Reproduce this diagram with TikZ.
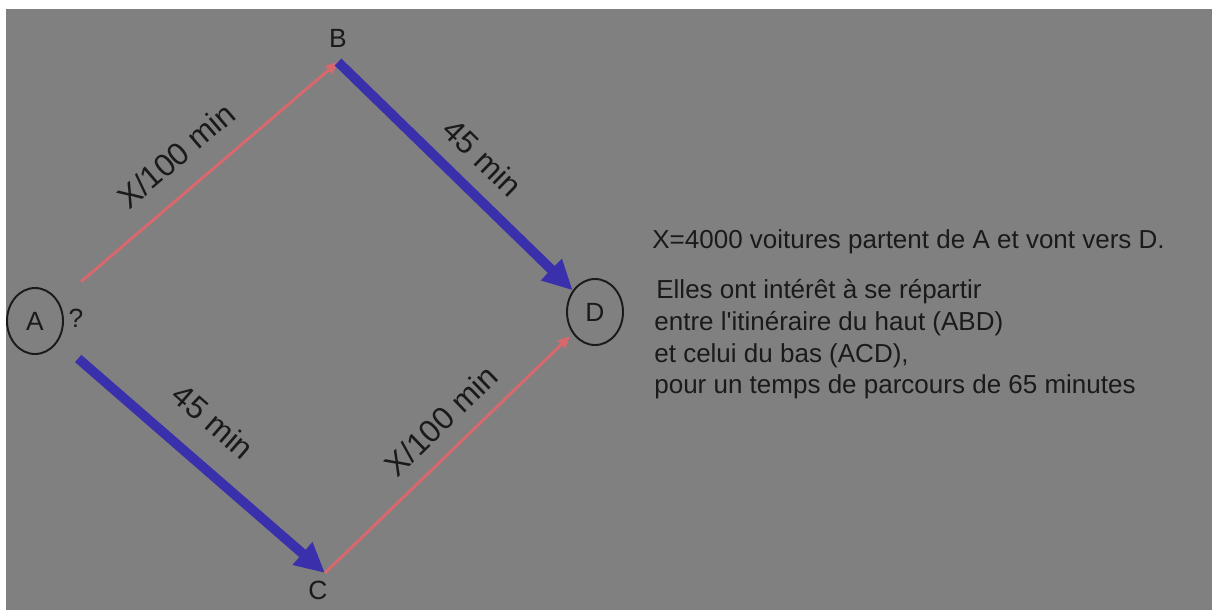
\documentclass[tikz,border=0pt]{standalone}
\usepackage{fontspec}
\setmainfont{Liberation Sans}
\usetikzlibrary{arrows.meta,shapes.geometric}
\definecolor{bg}{RGB}{128,128,128}
\definecolor{redline}{RGB}{214,104,110}
\definecolor{blueline}{RGB}{58,48,172}
\definecolor{ink}{RGB}{26,26,26}
\tikzset{
  town/.style={ellipse, draw=ink, line width=1.1pt, inner sep=0pt, text=ink,
    minimum width=56*0.02cm, minimum height=66*0.02cm, font=\fontsize{15}{18}\selectfont},
  lbl/.style={text=ink, font=\fontsize{15}{18}\selectfont},
  slow/.style={draw=redline, line width=1.7pt, -{Triangle[length=7pt,width=6pt]}},
  fast/.style={draw=blueline, line width=5.5pt, -{Triangle[length=17pt,width=16pt]}},
  edgelbl/.style={text=ink, font=\fontsize{18}{21}\selectfont, sloped, inner sep=0pt},
  txt/.style={text=ink, font=\fontsize{14.8}{18}\selectfont, anchor=base west, inner sep=0pt}
}
\begin{document}
\begin{tikzpicture}[x={(0.02cm,0)}, y={(0,-0.02cm)}]
\useasboundingbox (0,0) rectangle (1212,610);
\fill[white] (0,0) rectangle (1212,610);
\fill[bg] (6,9) rectangle (1212,610);

\node[town] (A) at (35,321) {A};
\node[town] (D) at (595,312) {D};
\node[lbl] (q) at (76,318) {?};
\node[lbl] (B) at (338,38) {B};
\node[lbl] (C) at (318,590) {C};
\coordinate (Bp) at (338,62);
\coordinate (Cp) at (325,573);

\draw[slow, shorten <=17pt] (A) -- (Bp) node[edgelbl, above=12pt, pos=0.5] (l1) {X/100 min};
\draw[fast] (Bp) -- (D) node[edgelbl, above=9pt, pos=0.52] (l2) {45 min};
\draw[fast, shorten <=15pt] (A) -- (Cp) node[edgelbl, above=14pt, pos=0.48] (l3) {45 min};
\draw[slow, shorten >=2pt] (Cp) -- (D) node[edgelbl, above=9pt, pos=0.55] (l4) {X/100 min};

\node[txt] (t1) at (652,248) {X=4000 voitures partent de A et vont vers D.};
\node[txt] (t2) at (656,298) {Elles ont intérêt à se répartir};
\node[txt] (t3) at (654,330) {entre l\textquotesingle itinéraire du haut (ABD)};
\node[txt] (t4) at (654,362) {et celui du bas (ACD),};
\node[txt] (t5) at (654,393) {pour un temps de parcours de 65 minutes};
\end{tikzpicture}
\end{document}
